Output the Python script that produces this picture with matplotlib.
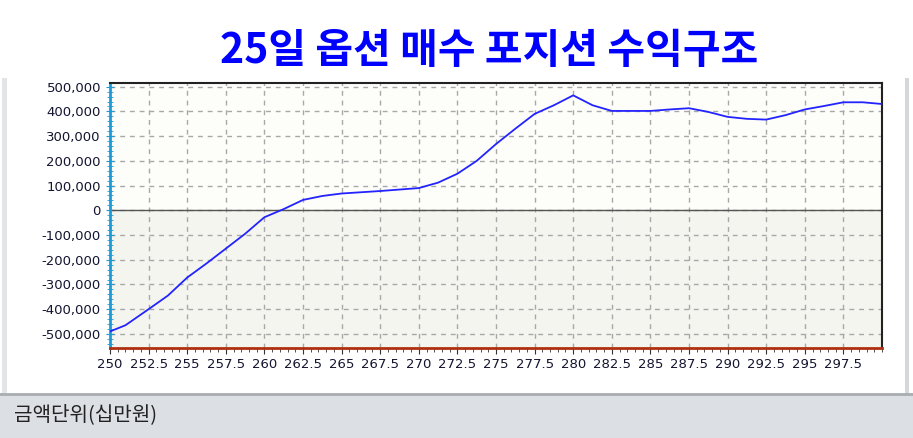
import matplotlib
matplotlib.use('Agg')
from matplotlib import pyplot as plt
from matplotlib.patches import Rectangle
from matplotlib.lines import Line2D
from matplotlib.ticker import MultipleLocator, FuncFormatter

plt.rcParams['font.family'] = ['DejaVu Sans', 'Noto Sans CJK KR']

# 기초자산 가격 / 손익 (십만원)
prices = [250, 251, 252.5, 253.75, 255, 256.25, 257.5, 258.75, 260, 261.25,
          262.5, 263.75, 265, 267.5, 270, 271.25, 272.5, 273.75, 275, 276.25,
          277.5, 278.75, 280, 281.25, 282.5, 285, 286.25, 287.5, 288.75, 290,
          291.25, 292.5, 293.75, 295, 296.25, 297.5, 298.75, 300]
profit = [-490000, -465000, -400000, -345000, -272000, -215000, -155000, -95000, -28000, 5000,
          42000, 58000, 68000, 78000, 90000, 112000, 148000, 200000, 268000, 330000,
          390000, 425000, 465000, 425000, 402000, 402000, 408000, 413000, 398000, 378000,
          370000, 367000, 385000, 408000, 422000, 437000, 437000, 430000]

xticks = [250, 252.5, 255, 257.5, 260, 262.5, 265, 267.5, 270, 272.5, 275,
          277.5, 280, 282.5, 285, 287.5, 290, 292.5, 295, 297.5]
xlabels = ['250', '252.5', '255', '257.5', '260', '262.5', '265', '267.5', '270', '272.5', '275',
           '277.5', '280', '282.5', '285', '287.5', '290', '292.5', '295', '297.5']
yticks = [-500000, -400000, -300000, -200000, -100000, 0,
          100000, 200000, 300000, 400000, 500000]

title = '25일 옵션 매수 포지션 수익구조'
unit_text = '금액단위(십만원)'

fig = plt.figure(figsize=(9.13, 4.38), dpi=100)
fig.patch.set_facecolor('white')

# 하단 회색 바와 패널 테두리
fig.patches.append(Rectangle((0, 0), 1, 43 / 438, transform=fig.transFigure,
                             facecolor='#dcdfe3', edgecolor='none', zorder=0))
fig.lines.append(Line2D([0, 1], [44 / 438, 44 / 438], transform=fig.transFigure,
                        color='#a9acb0', lw=2))
fig.patches.append(Rectangle((2 / 913, 44 / 438), 5 / 913, 316 / 438, transform=fig.transFigure,
                             facecolor='#e2e5e8', edgecolor='none'))
fig.patches.append(Rectangle((905 / 913, 44 / 438), 4 / 913, 316 / 438, transform=fig.transFigure,
                             facecolor='#d4d7db', edgecolor='none'))

fig.text(0.536, 0.884, title, family='Noto Sans CJK KR', fontweight='bold',
         fontsize=29.5, color='#0000ff', ha='center', va='center')
fig.text(14 / 913, 0.054, unit_text, family='Noto Sans CJK KR', fontsize=14.5,
         color='#222222', ha='left', va='center')

ax = fig.add_axes([110 / 913, 90 / 438, 772 / 913, 265 / 438])
ax.set_facecolor('#fdfdfa')
ax.set_xlim(250, 300)
ax.set_ylim(-557000, 515000)
ax.axhspan(-557000, 0, color='#f5f5ef', zorder=0)

ax.grid(True, color='#a8a8a8', linestyle=(0, (3.5, 3.5)), linewidth=1)
ax.set_axisbelow(True)
ax.axhline(0, color='#555555', lw=1, zorder=1)

ax.plot(prices, profit, color='#2323ff', lw=1.3, zorder=3)

ax.set_xticks(xticks)
ax.set_xticklabels(xlabels)
ax.set_yticks(yticks)
ax.yaxis.set_major_formatter(FuncFormatter(lambda v, p: f'{int(v):,}'))
ax.xaxis.set_minor_locator(MultipleLocator(0.5))
ax.yaxis.set_minor_locator(MultipleLocator(20000))

ax.tick_params(axis='both', which='major', labelsize=9.5, labelcolor='#141430', length=4)
ax.tick_params(axis='x', which='both', direction='out', color='#333333')
ax.tick_params(axis='x', which='minor', length=3)
ax.tick_params(axis='y', which='both', direction='inout', color='#1e9bd7')
ax.tick_params(axis='y', which='minor', length=4)
ax.tick_params(axis='y', which='major', length=6)

ax.spines['left'].set_color('#1e9bd7')
ax.spines['left'].set_linewidth(2)
ax.spines['bottom'].set_color('#b03010')
ax.spines['bottom'].set_linewidth(2)
ax.spines['top'].set_color('#222222')
ax.spines['top'].set_linewidth(1.5)
ax.spines['right'].set_color('#222222')
ax.spines['right'].set_linewidth(1.5)

plt.savefig('out.png', dpi=100)
